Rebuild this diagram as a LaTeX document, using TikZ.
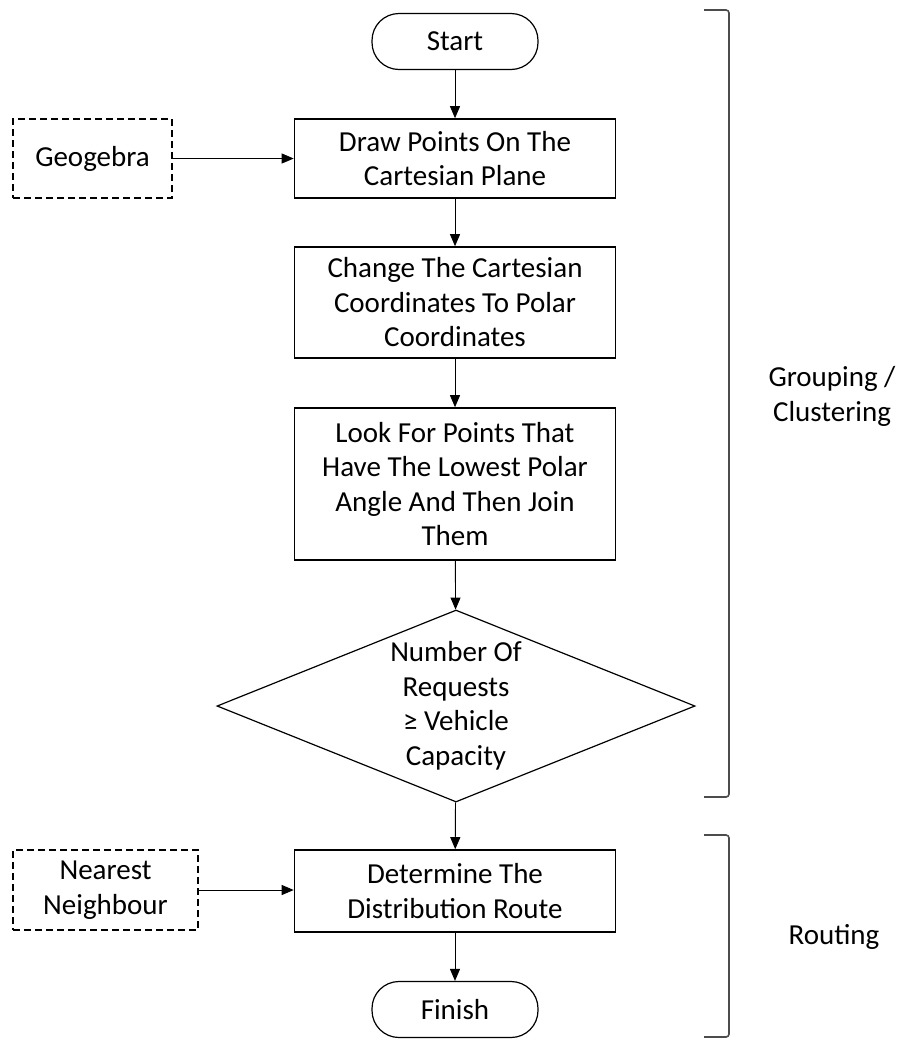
\documentclass[tikz,border=0pt]{standalone}
\usepackage{fontspec}
\setmainfont{Carlito}
\usetikzlibrary{shapes.geometric,arrows.meta}
\begin{document}
\begin{tikzpicture}[x=1pt,y=-1pt,
  every node/.style={font=\fontsize{29}{34.5}\selectfont, align=center, inner sep=0pt},
  proc/.style={draw, line width=1.6pt, rectangle, minimum width=321pt},
  term/.style={draw, line width=1.2pt, rectangle, rounded corners=27pt, minimum width=166pt, minimum height=56pt},
  tool/.style={draw, line width=1.9pt, dash pattern=on 7pt off 4pt, rectangle},
  dec/.style={draw, line width=1.2pt, diamond, aspect=2.49, minimum width=478pt, minimum height=192pt},
  flow/.style={line width=0.9pt, -{Triangle[length=12pt,width=10pt]}},
  brace/.style={draw=black!70, line width=1.6pt, rounded corners=3pt},
  side/.style={font=\fontsize{29}{35}\selectfont}
]
\useasboundingbox (0,0) rectangle (899,1039);

\node[term] (start) at (455,41.5) {Start};
\node[proc, minimum height=79pt] (draw) at (455,158.5) {Draw Points On The\\Cartesian Plane};
\node[proc, minimum height=111pt] (change) at (455,302.5) {Change The Cartesian\\Coordinates To Polar\\Coordinates};
\node[proc, minimum height=152pt] (look) at (455,484) {Look For Points That\\Have The Lowest Polar\\Angle And Then Join\\Them};
\node[dec] (cond) at (456,706) {Number Of\\Requests\\≥ Vehicle\\Capacity};
\node[proc, minimum height=82pt] (route) at (455,891) {Determine The\\Distribution Route};
\node[term] (finish) at (455,1009.5) {Finish};

\node[tool, minimum width=159pt, minimum height=79pt] (geo) at (92.5,158.5) {Geogebra};
\node[tool, minimum width=185pt, minimum height=80pt] (nn) at (105.5,890) {Nearest\\Neighbour};

\draw[flow] (start) -- (draw);
\draw[flow] (draw) -- (change);
\draw[flow] (change) -- (look);
\draw[flow] (look) -- (cond);
\draw[flow] (cond) -- (route);
\draw[flow] (route) -- (finish);
\draw[flow] (geo.east) -- (geo.east -| draw.west);
\draw[flow] (nn.east) -- (nn.east -| route.west);

\coordinate (b1a) at (704,10);
\coordinate (b1b) at (729,10);
\coordinate (b1c) at (729,797);
\coordinate (b1d) at (704,797);
\draw[brace] (b1a) -- (b1b) -- (b1c) -- (b1d);
\coordinate (b2a) at (704,835);
\coordinate (b2b) at (729,835);
\coordinate (b2c) at (729,1037);
\coordinate (b2d) at (704,1037);
\draw[brace] (b2a) -- (b2b) -- (b2c) -- (b2d);

\node[side] (grp) at (832,396) {Grouping /\\Clustering};
\node[side] (rt) at (834,937) {Routing};
\end{tikzpicture}
\end{document}
